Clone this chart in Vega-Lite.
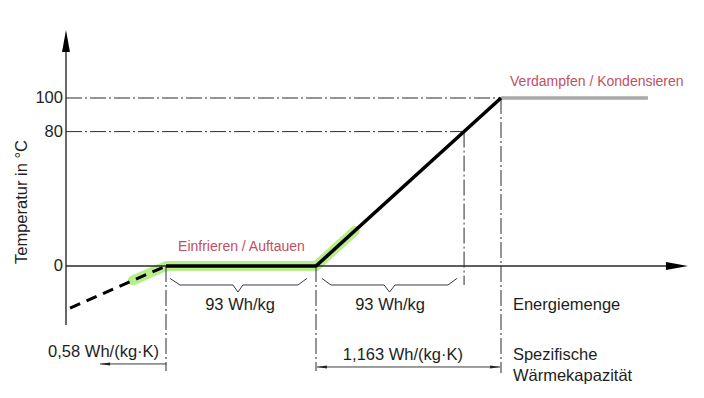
{
  "$schema": "https://vega.github.io/schema/vega-lite/v6.json",
  "width": 704,
  "height": 398,
  "padding": 0,
  "autosize": {"type": "none"},
  "background": "white",
  "config": {"view": {"stroke": null}, "font": "Liberation Sans"},
  "datasets": {
    "lines": [
      {"id": "yaxis", "style": "axis", "ord": 1, "E": -62, "T": -35.1},
      {"id": "yaxis", "style": "axis", "ord": 2, "E": -62, "T": 134},
      {"id": "xaxis", "style": "axis", "ord": 1, "E": -62, "T": 0},
      {"id": "xaxis", "style": "axis", "ord": 2, "E": 312.5, "T": 0},
      {"id": "h100", "style": "dashdot", "ord": 1, "E": -62, "T": 100},
      {"id": "h100", "style": "dashdot", "ord": 2, "E": 207.7, "T": 100},
      {"id": "h80", "style": "dashdot", "ord": 1, "E": -62, "T": 80},
      {"id": "h80", "style": "dashdot", "ord": 2, "E": 184.8, "T": 80},
      {"id": "v80", "style": "dashdot", "ord": 1, "E": 184.8, "T": 80},
      {"id": "v80", "style": "dashdot", "ord": 2, "E": 184.8, "T": -11.3},
      {"id": "v100", "style": "dashdot", "ord": 1, "E": 207.7, "T": 100},
      {"id": "v100", "style": "dashdot", "ord": 2, "E": 207.7, "T": -63.7},
      {"id": "v0", "style": "dashdot", "ord": 1, "E": 0, "T": 0},
      {"id": "v0", "style": "dashdot", "ord": 2, "E": 0, "T": -62.5},
      {"id": "v93", "style": "dashdot", "ord": 1, "E": 93, "T": 0},
      {"id": "v93", "style": "dashdot", "ord": 2, "E": 93, "T": -62.5},
      {"id": "green", "style": "green", "ord": 1, "E": -20.5, "T": -8.6},
      {"id": "green", "style": "green", "ord": 2, "E": 0, "T": 0},
      {"id": "green", "style": "green", "ord": 3, "E": 93, "T": 0},
      {"id": "green", "style": "green", "ord": 4, "E": 117, "T": 20.9},
      {"id": "main", "style": "main", "ord": 1, "E": 0, "T": 0},
      {"id": "main", "style": "main", "ord": 2, "E": 93, "T": 0},
      {"id": "main", "style": "main", "ord": 3, "E": 207.7, "T": 100},
      {"id": "ice", "style": "ice", "ord": 1, "E": -59.5, "T": -25},
      {"id": "ice", "style": "ice", "ord": 2, "E": 0, "T": 0},
      {"id": "gray", "style": "gray", "ord": 1, "E": 207.7, "T": 100},
      {"id": "gray", "style": "gray", "ord": 2, "E": 298.8, "T": 100},
      {"id": "b1", "style": "brace", "ord": 1, "E": 2.5, "T": -7.4},
      {"id": "b1", "style": "brace", "ord": 2, "E": 8.7, "T": -11.3},
      {"id": "b1", "style": "brace", "ord": 3, "E": 41.5, "T": -11.3},
      {"id": "b1", "style": "brace", "ord": 4, "E": 44.6, "T": -15.5},
      {"id": "b1", "style": "brace", "ord": 5, "E": 47.7, "T": -11.3},
      {"id": "b1", "style": "brace", "ord": 6, "E": 81.8, "T": -11.3},
      {"id": "b1", "style": "brace", "ord": 7, "E": 87.4, "T": -7.4},
      {"id": "b2", "style": "brace", "ord": 1, "E": 96.7, "T": -7.4},
      {"id": "b2", "style": "brace", "ord": 2, "E": 102.3, "T": -11.3},
      {"id": "b2", "style": "brace", "ord": 3, "E": 135.2, "T": -11.3},
      {"id": "b2", "style": "brace", "ord": 4, "E": 138.6, "T": -15.5},
      {"id": "b2", "style": "brace", "ord": 5, "E": 142.0, "T": -11.3},
      {"id": "b2", "style": "brace", "ord": 6, "E": 174.8, "T": -11.3},
      {"id": "b2", "style": "brace", "ord": 7, "E": 180.4, "T": -7.4},
      {"id": "d1", "style": "dim", "ord": 1, "E": -40.9, "T": -58.3},
      {"id": "d1", "style": "dim", "ord": 2, "E": 0, "T": -58.3},
      {"id": "d2", "style": "dim", "ord": 1, "E": 93.6, "T": -60.1},
      {"id": "d2", "style": "dim", "ord": 2, "E": 207.1, "T": -60.1}
    ],
    "heads": [
      {"kind": "up", "E": -62, "T": 133.9},
      {"kind": "right", "E": 316.8, "T": 0},
      {"kind": "smallleft", "E": -37.8, "T": -58.3},
      {"kind": "smallleft", "E": 96.7, "T": -60.1},
      {"kind": "smallright", "E": 204.0, "T": -60.1}
    ],
    "texts": [
      {"kind": "tick", "label": "100", "E": -63.9, "T": 100},
      {"kind": "tick", "label": "80", "E": -63.9, "T": 80},
      {"kind": "tick", "label": "0", "E": -63.9, "T": 0},
      {"kind": "red", "label": "Verdampfen / Kondensieren", "E": 213.3, "T": 109.5},
      {"kind": "redc", "label": "Einfrieren / Auftauen", "E": 46.8, "T": 11.3},
      {"kind": "center", "label": "93 Wh/kg", "E": 45.9, "T": -23.2},
      {"kind": "center", "label": "93 Wh/kg", "E": 138.9, "T": -23.2},
      {"kind": "left", "label": "Energiemenge", "E": 215.1, "T": -23.2},
      {"kind": "center", "label": "0,58 Wh/(kg·K)", "E": -38.7, "T": -51.2},
      {"kind": "center", "label": "1,163 Wh/(kg·K)", "E": 146.9, "T": -53.0},
      {"kind": "left", "label": "Spezifische", "E": 215.1, "T": -53.0},
      {"kind": "left", "label": "Wärmekapazität", "E": 215.1, "T": -65.5},
      {"kind": "title", "label": "Temperatur in °C", "E": -89.3, "T": 38.1}
    ]
  },
  "encoding": {
    "x": {"field": "E", "type": "quantitative", "scale": {"domain": [-102.92, 333.56], "nice": false, "zero": false}, "axis": null},
    "y": {"field": "T", "type": "quantitative", "scale": {"domain": [-78.57, 158.33], "nice": false, "zero": false}, "axis": null}
  },
  "layer": [
    {
      "data": {"name": "lines"},
      "transform": [{"filter": "datum.style === 'green'"}],
      "mark": {"type": "line", "color": "#aeec80", "strokeWidth": 10, "strokeCap": "round", "strokeJoin": "round", "opacity": 0.9},
      "encoding": {"detail": {"field": "id"}, "order": {"field": "ord"}}
    },
    {
      "data": {"name": "lines"},
      "transform": [{"filter": "datum.style === 'axis'"}],
      "mark": {"type": "line", "color": "#2a2a2a", "strokeWidth": 1.4},
      "encoding": {"detail": {"field": "id"}, "order": {"field": "ord"}}
    },
    {
      "data": {"name": "lines"},
      "transform": [{"filter": "datum.style === 'dashdot'"}],
      "mark": {"type": "line", "color": "#2a2a2a", "strokeWidth": 1, "strokeDash": [16, 3, 2, 3]},
      "encoding": {"detail": {"field": "id"}, "order": {"field": "ord"}}
    },
    {
      "data": {"name": "lines"},
      "transform": [{"filter": "datum.style === 'brace' || datum.style === 'dim'"}],
      "mark": {"type": "line", "color": "#3a3a3a", "strokeWidth": 1},
      "encoding": {"detail": {"field": "id"}, "order": {"field": "ord"}}
    },
    {
      "data": {"name": "lines"},
      "transform": [{"filter": "datum.style === 'gray'"}],
      "mark": {"type": "line", "color": "#a9a9a9", "strokeWidth": 3.5},
      "encoding": {"detail": {"field": "id"}, "order": {"field": "ord"}}
    },
    {
      "data": {"name": "lines"},
      "transform": [{"filter": "datum.style === 'main'"}],
      "mark": {"type": "line", "color": "#000000", "strokeWidth": 3.5, "strokeJoin": "miter"},
      "encoding": {"detail": {"field": "id"}, "order": {"field": "ord"}}
    },
    {
      "data": {"name": "lines"},
      "transform": [{"filter": "datum.style === 'ice'"}],
      "mark": {"type": "line", "color": "#000000", "strokeWidth": 3, "strokeDash": [11, 7]},
      "encoding": {"detail": {"field": "id"}, "order": {"field": "ord"}}
    },
    {
      "data": {"name": "heads"},
      "transform": [{"filter": "datum.kind === 'up'"}],
      "mark": {"type": "point", "shape": "M0,-1L0.36,1L-0.36,1Z", "filled": true, "color": "#000000", "size": 484, "opacity": 1}
    },
    {
      "data": {"name": "heads"},
      "transform": [{"filter": "datum.kind === 'right'"}],
      "mark": {"type": "point", "shape": "M1,0L-1,-0.36L-1,0.36Z", "filled": true, "color": "#000000", "size": 484, "opacity": 1}
    },
    {
      "data": {"name": "heads"},
      "transform": [{"filter": "datum.kind === 'smallleft'"}],
      "mark": {"type": "point", "shape": "M-1,0L1,-0.3L1,0.3Z", "filled": true, "color": "#222222", "size": 100, "opacity": 1}
    },
    {
      "data": {"name": "heads"},
      "transform": [{"filter": "datum.kind === 'smallright'"}],
      "mark": {"type": "point", "shape": "M1,0L-1,-0.3L-1,0.3Z", "filled": true, "color": "#222222", "size": 100, "opacity": 1}
    },
    {
      "data": {"name": "texts"},
      "transform": [{"filter": "datum.kind === 'tick'"}],
      "mark": {"type": "text", "align": "right", "baseline": "middle", "fontSize": 16.5, "color": "#1e1e1e"},
      "encoding": {"text": {"field": "label"}}
    },
    {
      "data": {"name": "texts"},
      "transform": [{"filter": "datum.kind === 'red'"}],
      "mark": {"type": "text", "align": "left", "baseline": "middle", "fontSize": 14, "color": "#bf4f64"},
      "encoding": {"text": {"field": "label"}}
    },
    {
      "data": {"name": "texts"},
      "transform": [{"filter": "datum.kind === 'redc'"}],
      "mark": {"type": "text", "align": "center", "baseline": "middle", "fontSize": 14, "color": "#bf4f64"},
      "encoding": {"text": {"field": "label"}}
    },
    {
      "data": {"name": "texts"},
      "transform": [{"filter": "datum.kind === 'center'"}],
      "mark": {"type": "text", "align": "center", "baseline": "middle", "fontSize": 16.5, "color": "#1e1e1e"},
      "encoding": {"text": {"field": "label"}}
    },
    {
      "data": {"name": "texts"},
      "transform": [{"filter": "datum.kind === 'left'"}],
      "mark": {"type": "text", "align": "left", "baseline": "middle", "fontSize": 16.5, "color": "#1e1e1e"},
      "encoding": {"text": {"field": "label"}}
    },
    {
      "data": {"name": "texts"},
      "transform": [{"filter": "datum.kind === 'title'"}],
      "mark": {"type": "text", "align": "center", "baseline": "middle", "angle": 270, "fontSize": 16.5, "color": "#1e1e1e"},
      "encoding": {"text": {"field": "label"}}
    }
  ]
}
